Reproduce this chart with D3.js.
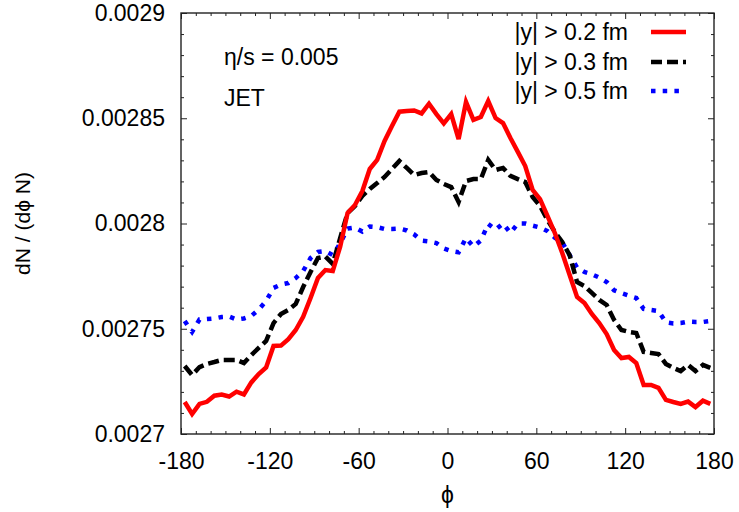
<!DOCTYPE html>
<html>
<head>
<meta charset="utf-8">
<script src="https://cdn.jsdelivr.net/npm/d3@7"></script>
<style>
  html, body { margin: 0; padding: 0; background: #fff; }
  svg text { font-family: "Liberation Sans", Arial, Helvetica, sans-serif; fill: #000; }
</style>
</head>
<body>
<svg id="chart" width="739" height="512"></svg>
<script>
// Azimuthal distribution of particles, bins of 5 degrees
const phi = [
  -177.5, -172.5, -167.5, -162.5, -157.5, -152.5, -147.5, -142.5, -137.5, -132.5,
  -127.5, -122.5, -117.5, -112.5, -107.5, -102.5, -97.5, -92.5, -87.5, -82.5,
  -77.5, -72.5, -67.5, -62.5, -57.5, -52.5, -47.5, -42.5, -37.5, -32.5,
  -27.5, -22.5, -17.5, -12.5, -7.5, -2.5, 2.5, 7.5, 12.5, 17.5,
  22.5, 27.5, 32.5, 37.5, 42.5, 47.5, 52.5, 57.5, 62.5, 67.5,
  72.5, 77.5, 82.5, 87.5, 92.5, 97.5, 102.5, 107.5, 112.5, 117.5,
  122.5, 127.5, 132.5, 137.5, 142.5, 147.5, 152.5, 157.5, 162.5, 167.5,
  172.5, 177.5
];

// |y| > 0.2 fm
const cut02 = [
  0.0027152, 0.0027095, 0.0027143, 0.0027153, 0.0027182, 0.0027187, 0.0027178, 0.0027201, 0.0027188, 0.0027245,
  0.0027285, 0.0027316, 0.0027418, 0.0027420, 0.0027451, 0.0027494, 0.0027557, 0.0027646, 0.0027741, 0.0027779,
  0.0027774, 0.0027890, 0.0028050, 0.0028088, 0.0028154, 0.0028259, 0.0028302, 0.0028392, 0.0028463, 0.0028531,
  0.0028534, 0.0028537, 0.0028523, 0.0028569, 0.0028520, 0.0028476, 0.0028520, 0.0028401, 0.0028577, 0.0028492,
  0.0028506, 0.0028582, 0.0028501, 0.0028477, 0.0028406, 0.0028340, 0.0028273, 0.0028159, 0.0028116, 0.0028036,
  0.0027955, 0.0027860, 0.0027755, 0.0027651, 0.0027622, 0.0027570, 0.0027527, 0.0027475, 0.0027399, 0.0027361,
  0.0027366, 0.0027337, 0.0027233, 0.0027233, 0.0027219, 0.0027162, 0.0027152, 0.0027143, 0.0027154, 0.0027128,
  0.0027158, 0.0027143
];

// |y| > 0.3 fm
const cut03 = [
  0.0027323, 0.0027280, 0.0027318, 0.0027333, 0.0027342, 0.0027352, 0.0027352, 0.0027352, 0.0027337, 0.0027375,
  0.0027409, 0.0027442, 0.0027527, 0.0027570, 0.0027589, 0.0027618, 0.0027698, 0.0027770, 0.0027836, 0.0027843,
  0.0027808, 0.0027931, 0.0028050, 0.0028083, 0.0028131, 0.0028164, 0.0028192, 0.0028221, 0.0028259, 0.0028297,
  0.0028264, 0.0028230, 0.0028240, 0.0028245, 0.0028207, 0.0028188, 0.0028173, 0.0028102, 0.0028202, 0.0028211,
  0.0028211, 0.0028302, 0.0028254, 0.0028264, 0.0028226, 0.0028211, 0.0028197, 0.0028126, 0.0028083, 0.0028017,
  0.0027960, 0.0027912, 0.0027850, 0.0027722, 0.0027703, 0.0027670, 0.0027637, 0.0027613, 0.0027542, 0.0027494,
  0.0027485, 0.0027480, 0.0027390, 0.0027385, 0.0027380, 0.0027333, 0.0027314, 0.0027299, 0.0027328, 0.0027299,
  0.0027328, 0.0027314
];

// |y| > 0.5 fm
const cut05 = [
  0.0027537, 0.0027485, 0.0027544, 0.0027546, 0.0027549, 0.0027556, 0.0027558, 0.0027544, 0.0027549, 0.0027561,
  0.0027591, 0.0027632, 0.0027694, 0.0027710, 0.0027717, 0.0027741, 0.0027774, 0.0027836, 0.0027865, 0.0027869,
  0.0027850, 0.0027905, 0.0027976, 0.0027981, 0.0027962, 0.0027986, 0.0027983, 0.0027974, 0.0027974, 0.0027976,
  0.0027967, 0.0027948, 0.0027919, 0.0027915, 0.0027907, 0.0027882, 0.0027869, 0.0027863, 0.0027931, 0.0027890,
  0.0027919, 0.0027998, 0.0027971, 0.0028000, 0.0027955, 0.0028000, 0.0028000, 0.0027990, 0.0027981, 0.0027964,
  0.0027933, 0.0027910, 0.0027850, 0.0027791, 0.0027770, 0.0027759, 0.0027743, 0.0027722, 0.0027683, 0.0027669,
  0.0027657, 0.0027646, 0.0027594, 0.0027589, 0.0027584, 0.0027531, 0.0027525, 0.0027527, 0.0027534, 0.0027532,
  0.0027532, 0.0027537
];

const seriesNames = ["|y| > 0.2 fm", "|y| > 0.3 fm", "|y| > 0.5 fm"];
const xTicks = [-180, -120, -60, 0, 60, 120, 180];
const xTickLabels = ["-180", "-120", "-60", "0", "60", "120", "180"];
const yTicks = [0.0027, 0.00275, 0.0028, 0.00285, 0.0029];
const yTickLabels = ["0.0027", "0.00275", "0.0028", "0.00285", "0.0029"];
const annotations = ["η/s = 0.005", "JET"];

const series = [
  { name: seriesNames[0], values: cut02, color: "#ff0000", dash: null },
  { name: seriesNames[1], values: cut03, color: "#000000", dash: "11,5" },
  { name: seriesNames[2], values: cut05, color: "#0000ff", dash: "4.5,7.2" }
];

const svg = d3.select("#chart");
const L = 181, R = 714, T = 13, B = 434;

const x = d3.scaleLinear().domain([-180, 180]).range([L, R]);
const y = d3.scaleLinear().domain([0.0027, 0.0029]).range([B, T]);

const xMinor = d3.range(-180, 181, 10).filter(v => v % 60 !== 0);
const yMinor = d3.range(0, 21).map(k => 0.0027 + k * 0.00001).filter((v, k) => k % 5 !== 0);

const fontSize = 23;
const MAJ = 6, MIN = 3;

// axis: bottom
svg.append("g").attr("transform", `translate(0,${B})`)
  .call(d3.axisBottom(x).tickValues(xTicks).tickSize(-MAJ).tickPadding(19)
    .tickFormat((d, i) => xTickLabels[i]));
svg.append("g").attr("transform", `translate(0,${B})`)
  .call(d3.axisBottom(x).tickValues(xMinor).tickSize(-MIN).tickFormat(""));
// axis: top (mirror)
svg.append("g").attr("transform", `translate(0,${T})`)
  .call(d3.axisTop(x).tickValues(xTicks).tickSize(-MAJ).tickFormat(""));
svg.append("g").attr("transform", `translate(0,${T})`)
  .call(d3.axisTop(x).tickValues(xMinor).tickSize(-MIN).tickFormat(""));
// axis: left
svg.append("g").attr("transform", `translate(${L},0)`)
  .call(d3.axisLeft(y).tickValues(yTicks).tickSize(-MAJ).tickPadding(16)
    .tickFormat((d, i) => yTickLabels[i]));
svg.append("g").attr("transform", `translate(${L},0)`)
  .call(d3.axisLeft(y).tickValues(yMinor).tickSize(-MIN).tickFormat(""));
// axis: right (mirror)
svg.append("g").attr("transform", `translate(${R},0)`)
  .call(d3.axisRight(y).tickValues(yTicks).tickSize(-MAJ).tickFormat(""));
svg.append("g").attr("transform", `translate(${R},0)`)
  .call(d3.axisRight(y).tickValues(yMinor).tickSize(-MIN).tickFormat(""));

svg.selectAll(".domain").remove();
svg.selectAll(".tick line").attr("stroke", "#222").attr("stroke-width", 1);
svg.selectAll(".tick text")
  .style("font-family", '"Liberation Sans", Arial, sans-serif')
  .style("font-size", fontSize + "px").attr("fill", "#000");

// plot frame
svg.append("rect")
  .attr("x", L).attr("y", T).attr("width", R - L).attr("height", B - T)
  .attr("fill", "none").attr("stroke", "#222").attr("stroke-width", 1.4);

// curves
svg.append("clipPath").attr("id", "plotclip")
  .append("rect").attr("x", L).attr("y", T).attr("width", R - L).attr("height", B - T);

const line = d3.line().x((d, i) => x(phi[i])).y(d => y(d));
const gLines = svg.append("g").attr("clip-path", "url(#plotclip)");
series.slice().reverse().forEach(s => {
  gLines.append("path")
    .datum(s.values)
    .attr("d", line)
    .attr("fill", "none")
    .attr("stroke", s.color)
    .attr("stroke-width", 4.5)
    .attr("stroke-linejoin", "miter")
    .attr("stroke-linecap", "butt")
    .attr("stroke-dasharray", s.dash);
});

// legend
const legendRows = [32, 62, 91];
series.forEach((s, i) => {
  svg.append("text")
    .attr("x", 628).attr("y", legendRows[i]).attr("dy", "0.35em")
    .attr("text-anchor", "end")
    .style("font-size", fontSize + "px")
    .text(s.name);
  svg.append("line")
    .attr("x1", 651).attr("x2", 686)
    .attr("y1", legendRows[i]).attr("y2", legendRows[i])
    .attr("stroke", s.color).attr("stroke-width", 4.5)
    .attr("stroke-dasharray", s.dash);
});

// annotations
svg.append("text").attr("x", 224).attr("y", 65).style("font-size", fontSize + "px").text(annotations[0]);
svg.append("text").attr("x", 224).attr("y", 106).style("font-size", fontSize + "px").text(annotations[1]);

// axis titles
svg.append("text")
  .attr("transform", `translate(30,${(T + B) / 2}) rotate(-90)`)
  .attr("text-anchor", "middle")
  .style("font-size", "21px")
  .text("dN / (dϕ N)");
svg.append("text")
  .attr("x", (L + R) / 2).attr("y", 503)
  .attr("text-anchor", "middle")
  .style("font-size", "23px")
  .text("ϕ");
</script>
</body>
</html>
